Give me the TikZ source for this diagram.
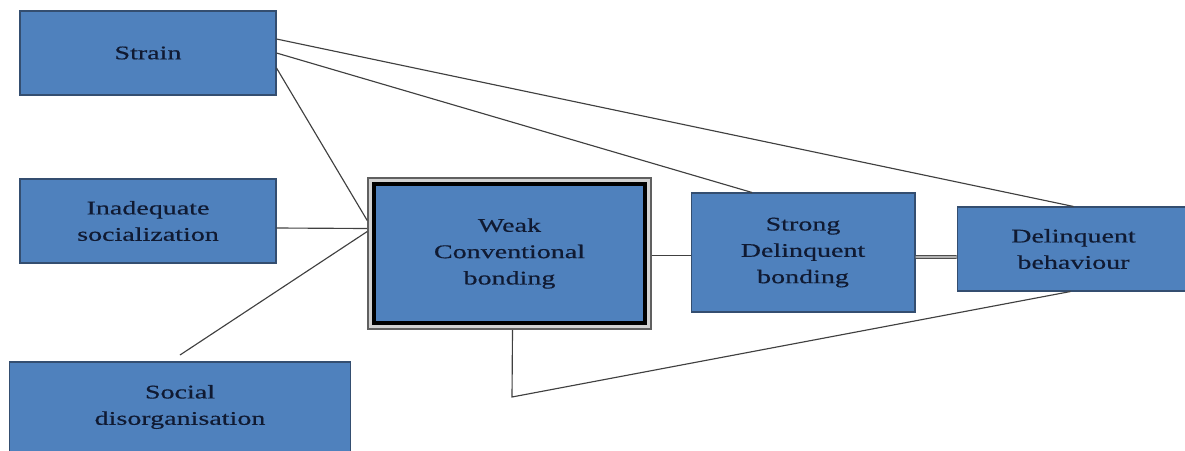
\documentclass[tikz,border=0pt]{standalone}
\usepackage{fontspec}
\setmainfont{Liberation Serif}[FakeStretch=1.45, FakeBold=0.5]
\usetikzlibrary{calc}
\definecolor{boxblue}{RGB}{79,129,189}
\definecolor{boxedge}{RGB}{52,78,112}
\definecolor{inktext}{RGB}{16,26,50}
\definecolor{linkgray}{RGB}{64,64,64}
\tikzset{%
  % Specifications for style of nodes:
            base/.style = {rectangle, draw=boxedge, line width=0.6pt,
                           fill=boxblue, text=inktext, align=center,
                           inner sep=0pt, font=\fontsize{11}{15}\selectfont},
       sidebox/.style = {base, minimum width=5.12cm, minimum height=1.68cm},
       mainbox/.style = {base, draw=black, line width=2.3pt,
                           minimum width=5.42cm, minimum height=2.78cm},
      framebox/.style = {rectangle, draw=gray!75!black, line width=0.9pt,
                           fill=gray!35, minimum width=5.66cm, minimum height=3.02cm},
          link/.style = {draw=linkgray, line width=0.65pt},
}

\begin{document}
\begin{tikzpicture}[x=0.02cm, y=-0.02cm]
  \useasboundingbox (0,0) rectangle (1185,450);
  \clip (0,0) rectangle (1185,450);
  % Specification of nodes (position, etc.)

  \node (strain)    [sidebox] at (148,53)  {Strain};
  \node (inadeq)    [sidebox] at (148,221) {Inadequate\\socialization};
  \node (social)    [sidebox, minimum width=6.84cm, minimum height=1.8cm] at (180,407) {Social\\disorganisation};
  \node (weak)      [framebox] at (509.5,253.5) {};
  \node (weakin)    [mainbox] at (weak) {Weak\\Conventional\\bonding};
  \node (strong)    [sidebox, minimum width=4.48cm, minimum height=2.38cm] at (803,252.5) {Strong\\Delinquent\\bonding};
  \node (delinq)    [sidebox, minimum width=4.66cm] at (1073.5,249) {Delinquent\\behaviour};
  \coordinate (sfree) at (180,355);
  \coordinate (ulow)  at (512,397);

  \draw[link]   ($(strain.east)+(0,-14)$) -- (delinq.north);
  \draw[link]   (strain.east) -- ($(strong.north)+(-51,0)$);
  \draw[link]   ($(strain.east)+(0,15)$) -- ($(weak.west)+(0,-33)$);
  \draw[link]   ($(inadeq.east)+(0,7)$) -- ($(weak.west)+(0,-25)$);
  \draw[link]   (sfree) -- ($(weak.west)+(0,-22)$);
  \draw[link]   ($(weak.east)+(0,2)$) -- ($(strong.west)+(0,3)$);
  \draw[link, double=gray!60, double distance=1.2pt, line width=0.5pt]
                ($(strong.east)+(0,4.5)$) -- ($(delinq.west)+(0,8)$);
  \draw[link]   ($(weak.south)+(3,0)$) -- (ulow) -- ($(delinq.south)+(-3,0)$);
\end{tikzpicture}
\end{document}
